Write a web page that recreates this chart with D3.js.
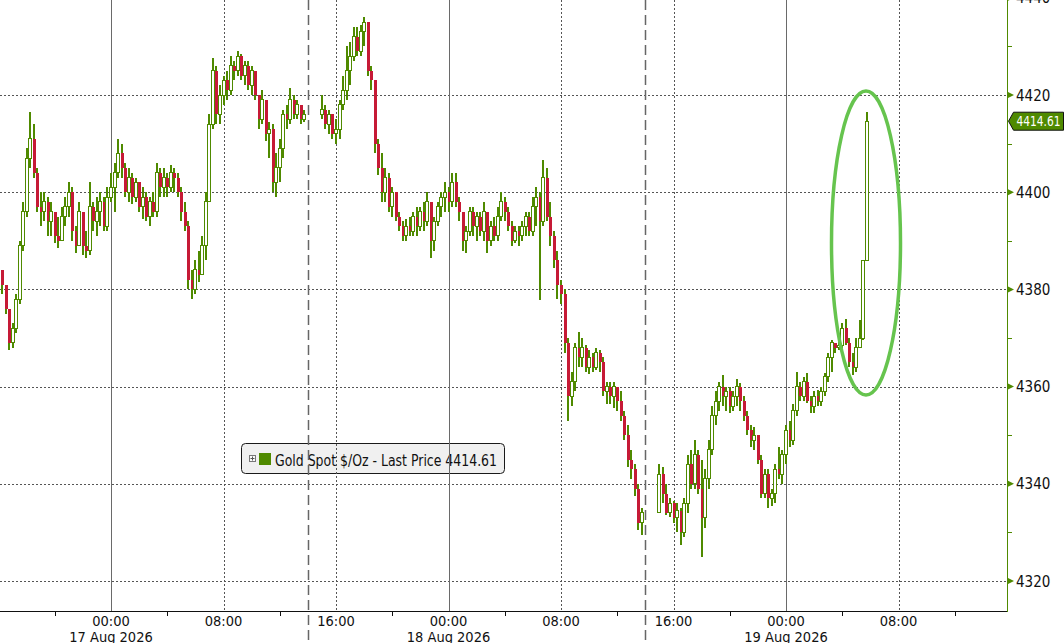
<!DOCTYPE html>
<html><head><meta charset="utf-8">
<script src="https://cdn.jsdelivr.net/npm/d3@7"></script>
<style>
html,body{margin:0;padding:0;background:#fff;overflow:hidden;}
svg{display:block;}
text{font-family:"Liberation Sans Narrow","DejaVu Sans Condensed","Liberation Sans",sans-serif;}
</style></head><body>
<svg id="chart" width="1064" height="643"></svg>
<script>
// ---- DATA (15-minute candles, Gold Spot $/Oz) ----
const seriesName = "Gold Spot $/Oz - Last Price";
const lastPrice = 4414.61;
const firstOpen = 4384;
const sessionStarts = ["2026-08-16T16:15:00Z", "2026-08-17T15:00:00Z", "2026-08-18T15:00:00Z"];
const sessionBreaks = ["2026-08-17T14:00:00Z", "2026-08-18T14:00:00Z"];

const closeA = [4381,4376,4369,4372,4378,4389,4396,4407,4411,4404,
  4397,4396,4398,4394,4396,4391,4390,4395,4397,4400,
  4392,4389,4396,4389,4388,4397,4394,4396,4398,4393,
  4399,4401,4404,4408,4405,4400,4403,4399,4402,4397,
  4399,4395,4398,4396,4404,4401,4403,4401,4404,4403,
  4400,4396,4393,4382,4380,4384,4383,4389,4398,4414,
  4425,4416,4420,4423,4421,4426,4425,4428,4424,4426,
  4422,4425,4420,4415,4419,4412,4413,4402,4405,4409,
  4416,4415,4419,4416,4418,4415,4416];
const highA = [4384,4381,4376,4373,4379,4390,4398,4409,4416.5,4414,
  4405,4400,4400,4399,4398,4396,4395,4397,4399,4402,
  4401,4393,4398,4396,4392,4402,4398,4399,4400,4399,
  4401,4404,4406,4411,4410,4406,4405,4404,4403,4402,
  4401,4400,4399,4400,4406,4405,4405,4404,4405.5,4405,
  4404,4401,4398,4394,4384,4386,4388,4391,4400,4416,
  4427.6,4426,4422,4424,4425,4428,4427,4429,4428.5,4427,
  4427,4426,4425,4420,4421,4419,4414.5,4414,4408,4411,
  4417,4418,4421.4,4420,4419,4418,4417];
const lowA = [4379,4375,4367.5,4368,4371,4377,4388,4395,4405,4403,
  4396,4393,4394,4391,4391,4389.5,4388.5,4390,4393,4395,
  4390,4387.5,4389,4387,4386.5,4387,4392,4391,4393,4392,
  4392,4398,4396,4403,4403,4399,4398,4397.5,4398,4396,
  4394.5,4394,4393,4395,4395,4399,4399,4399,4400,4400,
  4399,4394,4392,4380,4378,4379,4381.5,4383,4386,4398,
  4413,4414,4414,4418,4419,4420,4423,4424,4423,4422,
  4421,4420,4419,4413,4414,4410.5,4407,4400,4399,4402,
  4407,4413,4414,4415,4415,4414,4414.5];

const closeB = [4417,4414,4416,4412,4413,4418,4421,4425,4428,4432,
  4429,4433,4435,4425,4423,4410,4405,4400,4403,4397,
  4400,4395,4393,4391,4393,4392,4395,4393,4396,4394,
  4398,4390,4394,4397,4399,4400,4398,4402,4398,4396,
  4390,4392,4396,4393,4395,4392,4396,4390,4393,4391,
  4395,4398,4396,4393,4390,4392,4391,4393,4395,4392,
  4397,4399,4394,4403,4395,4391,4386,4381,4379,4369,
  4358,4361,4368,4366,4368,4364,4366,4364,4367,4365,
  4359,4360,4358,4360,4357,4354,4350,4345,4343,4339,
  4332,4334];
const highB = [4420,4418,4417,4416,4415,4419,4424,4430,4431,4434,
  4434,4434.5,4436,4435,4426,4423,4411,4408,4405,4404,
  4401,4400,4396,4394,4394.5,4395,4396,4397,4397,4398,
  4400,4398,4395,4398,4400,4402,4401,4404,4404,4399,
  4396,4393,4397,4397,4396,4396,4398,4396,4394,4395,
  4397,4400,4399,4397,4394,4393,4393,4394,4396,4396,
  4399,4401,4400,4406.6,4405,4398,4392,4388,4382,4380,
  4370,4363,4369,4371.2,4370,4368.5,4367.5,4367,4368,4367.5,
  4366,4361,4361,4361,4360,4359,4355,4352,4347,4344,
  4340,4335];
const lowB = [4415,4413,4412,4411,4410,4411,4417,4419,4422,4427,
  4428,4428,4430,4424,4421,4408,4403.5,4398,4398,4396,
  4395,4394,4392,4390,4390,4391,4391,4391,4392,4392,
  4393,4386.5,4388,4393,4395,4396,4396,4397,4397,4394,
  4388,4387.5,4391,4391,4390,4391,4390,4387.5,4389,4390,
  4390,4394,4394,4392,4389,4389.5,4389,4390,4391,4391,
  4391,4393,4377.8,4393,4394,4389,4384.5,4378,4377,4367,
  4353,4356,4359,4364,4364,4363,4362.5,4363,4363.5,4363,
  4358,4356.5,4356.5,4355.5,4355,4353,4349,4343.5,4341,4337.5,
  4330.5,4329.5];

const closeC = [4342,4338,4334,4336,4333,4334.5,4330,4336,4344,4340,
  4346,4339,4333,4341,4347,4354,4357,4360,4358,4359,
  4356,4358,4360,4357,4354,4351,4349,4350,4345,4338,
  4342,4337,4338,4343,4342,4346,4351,4349,4355,4360,
  4358,4361,4357,4356,4358,4357,4359,4362,4366,4369,
  4368,4368.5,4372,4369,4365,4364,4368,4370,4386,4414.61];
const highC = [4344,4343.5,4340,4337,4336.5,4336,4335,4337,4346,4347,
  4349,4347,4345,4343,4349,4356,4359,4361,4362.4,4360,
  4360,4359,4361.5,4360.7,4358,4355,4352,4351.6,4350,4346,
  4343,4343,4339,4344,4347.5,4347,4352,4353,4356.5,4363,
  4361,4362,4362.8,4358,4359,4359.3,4360,4362.8,4367,4369.5,
  4369,4370,4373,4374,4370,4367,4370,4373.7,4386,4416.5];
const lowC = [4334,4336,4333.5,4333.2,4332,4330,4327.4,4329,4334,4339,
  4339,4338,4325,4331,4339,4346,4352,4355,4356,4355,
  4354.5,4355,4356,4355,4353,4350,4347.5,4347,4344,4337,
  4337,4335,4335.5,4336,4341,4340,4344,4347.5,4348,4354,
  4357,4357,4356.6,4354.6,4354.6,4356,4356,4358,4361,4363,
  4367,4367.5,4368,4368.5,4364,4362.4,4363,4368,4369.5,4386];

const priceTicks = [4320,4340,4360,4380,4400,4420,4440];
const minorPriceTicks = [4330,4350,4370,4390,4410,4430];

// ---- LAYOUT ----
const W = 1064, H = 643, plotR = 1007, axisY = 611;
const GREEN = "#4f8a00", RED = "#c61a36", GRID = "#555";

const x = d3.scaleUtc()
  .domain([new Date(Date.UTC(2026,7,16,16,6,24)), new Date(Date.UTC(2026,7,19,15,42,56))])
  .range([0, plotR]);
const y = d3.scaleLinear().domain([4313.83, 4439.55]).range([axisY, 0]);

const svg = d3.select("#chart");

// build candles
const sessions = [[closeA, highA, lowA], [closeB, highB, lowB], [closeC, highC, lowC]];
const candles = [];
let prev = firstOpen;
sessions.forEach(([cl, hi, lo], s) => {
  const t0 = new Date(sessionStarts[s]);
  cl.forEach((c, i) => {
    const t = d3.utcMinute.offset(t0, 15 * i);
    candles.push({t, o: prev, h: hi[i], l: lo[i], c});
    prev = c;
  });
});

// ---- LEGEND (beneath grid lines) ----
const lg = svg.append("g");
lg.append("rect").attr("x", 241.5).attr("y", 443.5).attr("width", 263).attr("height", 30)
  .attr("rx", 4).attr("fill", "#f0f0f0").attr("stroke", "#1a1a1a");
lg.append("rect").attr("x", 249.5).attr("y", 455.5).attr("width", 6).attr("height", 6)
  .attr("fill", "#fafafa").attr("stroke", "#777");
lg.append("path").attr("d", "M250.5,458.5H254.5M252.5,456.5V460.5").attr("stroke", "#555").attr("stroke-width", 1);
lg.append("rect").attr("x", 259).attr("y", 453).attr("width", 12).attr("height", 12).attr("fill", GREEN);
lg.append("text").attr("x", 275).attr("y", 466).attr("font-size", 15).attr("fill", "#111")
  .attr("textLength", 222).attr("lengthAdjust", "spacingAndGlyphs")
  .text(seriesName + " " + d3.format(".2f")(lastPrice));

// ---- GRID ----
const grid = svg.append("g");
grid.selectAll("line.h").data(priceTicks).join("line")
  .attr("x1", 0).attr("x2", plotR)
  .attr("y1", d => Math.round(y(d)) + 0.5).attr("y2", d => Math.round(y(d)) + 0.5)
  .attr("stroke", GRID).attr("stroke-dasharray", "2,2");

const majorTimes = x.ticks(d3.utcHour.every(8));
grid.selectAll("line.v").data(majorTimes).join("line")
  .attr("x1", d => Math.round(x(d)) + 0.5).attr("x2", d => Math.round(x(d)) + 0.5)
  .attr("y1", 0).attr("y2", axisY)
  .attr("stroke", d => d.getUTCHours() === 0 ? "#6a6a6a" : GRID)
  .attr("stroke-dasharray", d => d.getUTCHours() === 0 ? null : "2,2");

grid.selectAll("line.s").data(sessionBreaks.map(s => new Date(s))).join("line")
  .attr("x1", d => Math.round(x(d)) + 0.5).attr("x2", d => Math.round(x(d)) + 0.5)
  .attr("y1", 0).attr("y2", H)
  .attr("stroke", "#666").attr("stroke-width", 1.5).attr("stroke-dasharray", "10,5");

// ---- CANDLES ----
const cg = svg.append("g").attr("shape-rendering", "crispEdges");
candles.forEach(d => {
  const cx = Math.round(x(d.t) - 2);
  const hi = Math.max(d.h, d.o, d.c), lo = Math.min(d.l, d.o, d.c);
  cg.append("line").attr("x1", cx + 2).attr("x2", cx + 2)
    .attr("y1", y(hi)).attr("y2", y(lo)).attr("stroke", GREEN).attr("stroke-width", 1.3);
  const top = y(Math.max(d.o, d.c)), bot = y(Math.min(d.o, d.c));
  if (d.c >= d.o) {
    cg.append("rect").attr("x", cx + 0.5).attr("y", top).attr("width", 3)
      .attr("height", Math.max(1, bot - top)).attr("fill", "#fff").attr("stroke", GREEN);
  } else {
    cg.append("rect").attr("x", cx + 0.5).attr("y", top).attr("width", 3)
      .attr("height", Math.max(1.5, bot - top)).attr("fill", RED);
  }
});

// ---- ELLIPSE highlight ----
svg.append("ellipse").attr("cx", 866).attr("cy", 243).attr("rx", 34.5).attr("ry", 152)
  .attr("fill", "none").attr("stroke", "#66c44e").attr("stroke-width", 3.5);

// ---- BOTTOM AXIS ----
const ax = svg.append("g");
ax.append("line").attr("x1", 0).attr("x2", plotR + 0.5).attr("y1", axisY + 0.5).attr("y2", axisY + 0.5).attr("stroke", "#111");
const minorTimes = x.ticks(d3.utcHour.every(4)).filter(d => d.getUTCHours() % 8 === 4);
ax.selectAll("line.mt").data(minorTimes).join("line")
  .attr("x1", d => Math.round(x(d)) + 0.5).attr("x2", d => Math.round(x(d)) + 0.5)
  .attr("y1", axisY).attr("y2", axisY + 5).attr("stroke", "#111");
ax.selectAll("text.t").data(majorTimes).join("text")
  .attr("x", d => x(d)).attr("y", 625.5).attr("text-anchor", "middle")
  .attr("font-size", 14.5).attr("fill", "#111").text(d3.utcFormat("%H:%M"));
ax.selectAll("text.d").data(majorTimes.filter(d => d.getUTCHours() === 0)).join("text")
  .attr("x", d => x(d)).attr("y", 641.5).attr("text-anchor", "middle")
  .attr("font-size", 14.5).attr("fill", "#111").text(d3.utcFormat("%d %b %Y"));

// ---- RIGHT AXIS ----
const ry = svg.append("g");
ry.append("line").attr("x1", plotR + 0.5).attr("x2", plotR + 0.5).attr("y1", 0).attr("y2", axisY + 1)
  .attr("stroke", GREEN);
ry.selectAll("path.tri").data(priceTicks).join("path")
  .attr("d", d => { const yy = y(d); return `M${plotR},${yy - 3.5}L${plotR + 7},${yy}L${plotR},${yy + 3.5}Z`; })
  .attr("fill", GREEN);
ry.selectAll("line.mn").data(minorPriceTicks).join("line")
  .attr("x1", plotR).attr("x2", plotR + 5)
  .attr("y1", d => Math.round(y(d)) + 0.5).attr("y2", d => Math.round(y(d)) + 0.5)
  .attr("stroke", GREEN);
ry.selectAll("text").data(priceTicks).join("text")
  .attr("x", 1016).attr("y", d => y(d) + 5.5)
  .attr("font-size", 15).attr("fill", "#111").text(d => d);

// ---- LAST PRICE TAG ----
const ly = y(lastPrice);
svg.append("path")
  .attr("d", `M1008.5,${ly}L1013.5,${ly - 9}H1063.5V${ly + 9}H1013.5Z`)
  .attr("fill", GREEN).attr("stroke", "#111");
svg.append("text").attr("x", 1016.5).attr("y", ly + 5).attr("font-size", 14)
  .attr("textLength", 44).attr("lengthAdjust", "spacingAndGlyphs")
  .attr("fill", "#fff").text(d3.format(".2f")(lastPrice));
</script>
</body></html>
